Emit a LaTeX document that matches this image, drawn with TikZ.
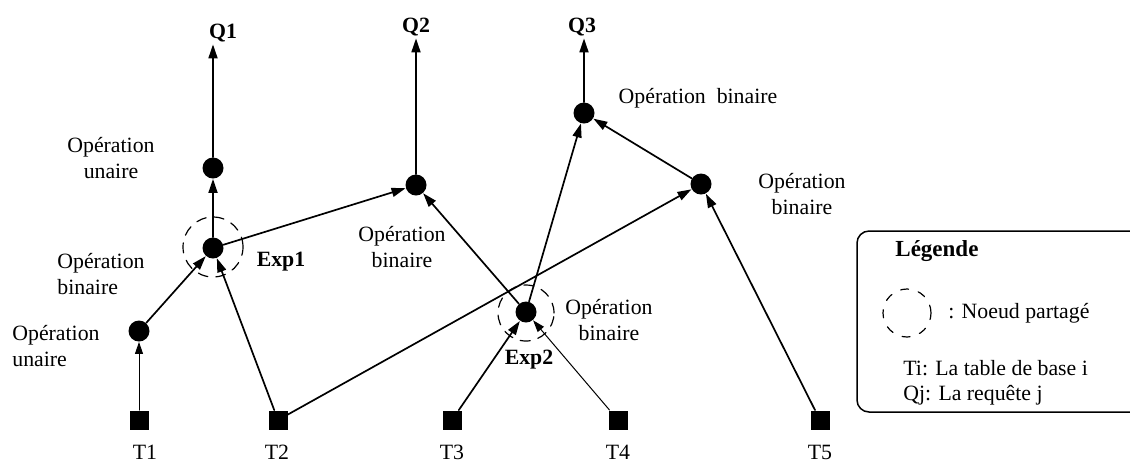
\documentclass[tikz,border=0pt]{standalone}
\usepackage{fontspec}
\setmainfont{Liberation Serif}
\usetikzlibrary{arrows.meta}

\begin{document}
\begin{tikzpicture}[
    x=0.5pt, y=-0.5pt,
    line cap=round,
    line join=round,
    operateur/.style = {circle, fill=black, inner sep=0pt, minimum size=10.5pt},
    tablebase/.style = {rectangle, fill=black, inner sep=0pt, minimum size=9.5pt},
    partage/.style   = {circle, draw, line width=0.6pt, dash pattern=on 5pt off 4pt, inner sep=0pt},
    fleche/.style    = {line width=0.85pt, -{Triangle[length=7pt,width=4.5pt]}},
    flechefine/.style= {line width=0.5pt, -{Triangle[length=6pt,width=4pt]}},
    etiquette/.style = {font=\fontsize{10.9}{13.3}\selectfont, inner sep=0pt, align=center},
    requete/.style   = {font=\fontsize{10.9}{13}\selectfont\bfseries, inner sep=1pt}
]
\useasboundingbox (0,0) rectangle (1130,463);

% ---- tables de base ----
\node[tablebase] (t1) at (139,420) {};
\node[tablebase] (t2) at (278,420) {};
\node[tablebase] (t3) at (452,420) {};
\node[tablebase] (t4) at (618,420) {};
\node[tablebase] (t5) at (820,420) {};
\node[etiquette,anchor=north] (lt1) at (145,445) {T1};
\node[etiquette,anchor=north] (lt2) at (277,445) {T2};
\node[etiquette,anchor=north] (lt3) at (452,445) {T3};
\node[etiquette,anchor=north] (lt4) at (618,445) {T4};
\node[etiquette,anchor=north] (lt5) at (820,445) {T5};

% ---- operateurs ----
\node[operateur] (u1)   at (139,331) {};
\node[operateur] (exp1) at (213,248) {};
\node[operateur] (u2)   at (213,168) {};
\node[operateur] (b2)   at (416,185) {};
\node[operateur] (exp2) at (526,312) {};
\node[operateur] (b3)   at (584,113) {};
\node[operateur] (br)   at (701,184) {};

% ---- noeuds partages ----
\node[partage,minimum size=30pt] (exp1p) at (213,247) {};
\node[partage,minimum size=28pt] (exp2p) at (526,313) {};
\node[requete] (lexp1) at (281,262) {Exp1};
\node[requete] (lexp2) at (529,360) {Exp2};

% ---- requetes ----
\node[requete] (q1) at (223,33) {Q1};
\node[requete] (q2) at (416,27) {Q2};
\node[requete] (q3) at (582,27) {Q3};

% ---- etiquettes des operations ----
\node[etiquette] (o1) at (111,158) {Opération\\unaire};
\node[etiquette,anchor=west,align=left] (o2) at (57,274) {Opération\\binaire};
\node[etiquette,anchor=west,align=left] (o3) at (12,346) {Opération\\unaire};
\node[etiquette] (o4) at (402,247) {Opération\\binaire};
\node[etiquette] (o5) at (609,320) {Opération\\binaire};
\node[etiquette] (o6) at (698,98) {Opération\ \ binaire};
\node[etiquette] (o7) at (802,194) {Opération\\binaire};

% ---- arcs ----
\draw[flechefine] (t1) -- (u1);
\draw[fleche] (u1) -- (exp1);
\draw[fleche] (t2) -- (exp1);
\draw[fleche] (exp1) -- (u2);
\draw[fleche] (u2) -- (u2 |- q1.south);
\draw[fleche] (exp1) -- (b2);
\draw[fleche] (exp2) -- (b2);
\draw[fleche] (b2) -- (b2 |- q2.south);
\draw[fleche] (t3) -- (exp2);
\draw[flechefine] (t4) -- (exp2);
\draw[fleche] (exp2) -- (b3);
\draw[fleche] (t2) -- (br);
\draw[fleche] (br) -- (b3);
\draw[fleche] (t5) -- (br);
\draw[fleche] (b3) -- (b3 |- q3.south);

% ---- legende ----
\draw[line width=0.75pt, rounded corners=6pt] (857,231) rectangle (1150,412);
\node[anchor=west, inner sep=0pt, font=\bfseries\fontsize{11.5}{13}\selectfont] (titre) at (895,251) {Légende};
\node[partage,minimum size=24pt,dash pattern=on 4pt off 5pt] (lcercle) at (907,313) {};
\node[etiquette,anchor=west] (lpart) at (948,313) {: Noeud partagé};
\node[etiquette,anchor=west] (lti) at (903,368) {Ti: La table de base i};
\node[etiquette,anchor=west] (lqj) at (903,395) {Qj: La requête j};

\end{tikzpicture}
\end{document}
